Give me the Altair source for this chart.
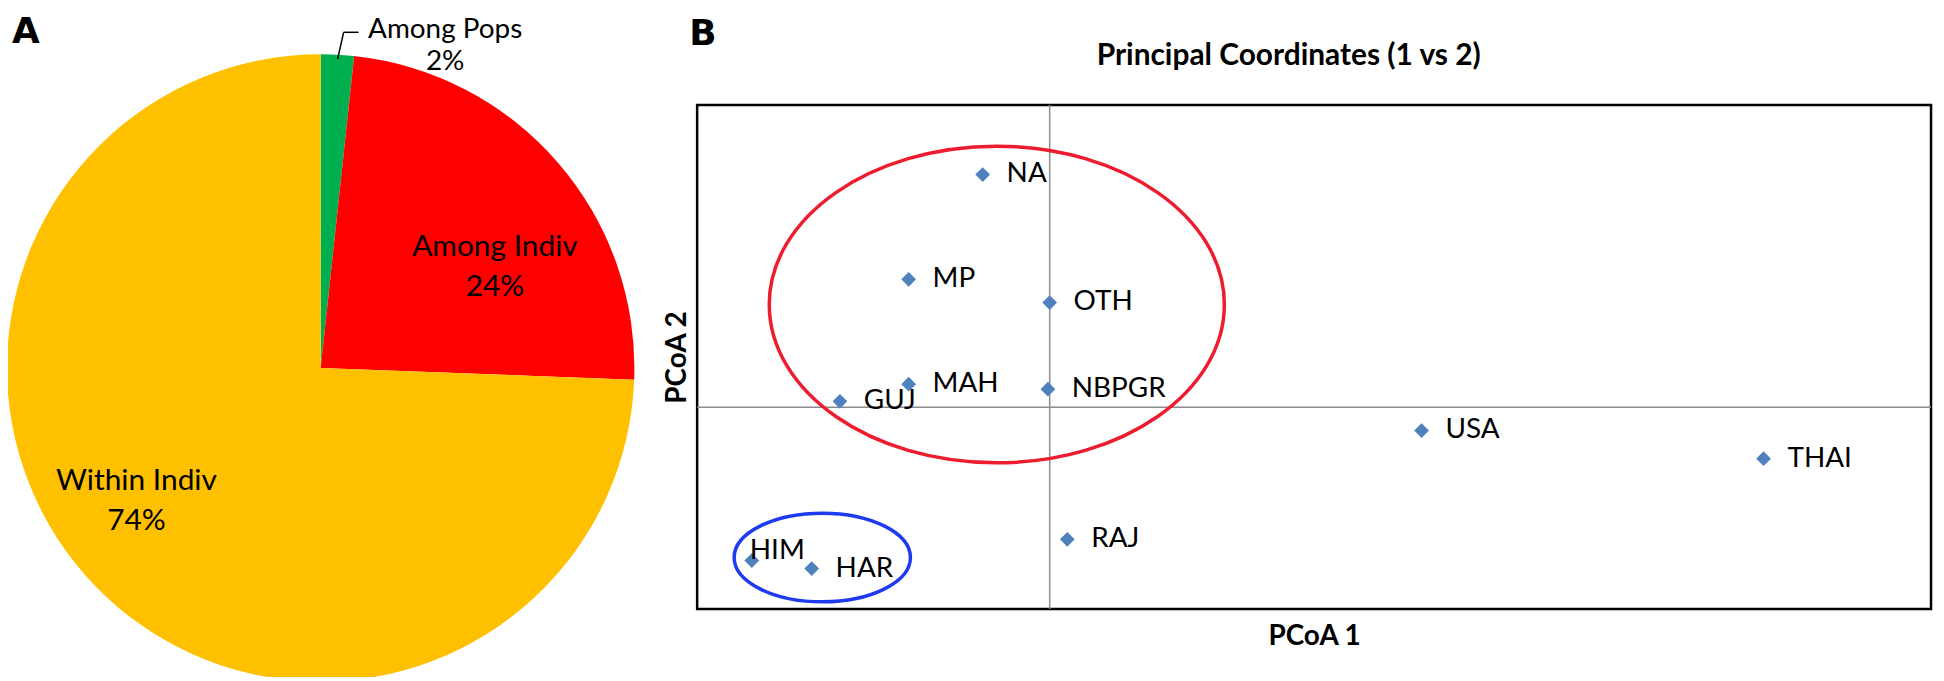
import altair as alt
import pandas as pd

# ---------------- Panel A data (AMOVA pie) ----------------
pie_categories = ["Among Pops", "Among Indiv", "Within Indiv"]
pie_values = [1.7, 23.9, 74.4]
pie_labels = ["2%", "24%", "74%"]
pie_colors = ["#00B050", "#FF0000", "#FFC000"]

# ---------------- Panel B data (PCoA) ----------------
pops = ["NA", "MP", "OTH", "MAH", "NBPGR", "GUJ", "USA", "THAI", "RAJ", "HIM", "HAR"]
pcoa1 = [-0.038, -0.080, 0.000, -0.080, -0.001, -0.119, 0.211, 0.405, 0.010, -0.169, -0.135]
pcoa2 = [0.231, 0.127, 0.104, 0.023, 0.018, 0.006, -0.023, -0.051, -0.131, -0.152, -0.160]

cluster_names = ["red", "blue"]
cluster_cx = [-0.030, -0.129]
cluster_cy = [0.102, -0.149]

FONT = "Lato"
VX, VY = 700, 104  # page position of the plot box (view origin)


def px(x):
    return x - VX


def py(y):
    return y - VY


one = pd.DataFrame({"k": [0]})

pie_df = pd.DataFrame({"category": pie_categories, "value": pie_values,
                       "order": list(range(len(pie_categories)))})
sc_df = pd.DataFrame({"pop": pops, "pcoa1": pcoa1, "pcoa2": pcoa2})
cl_df = pd.DataFrame({"cluster": cluster_names, "cx": cluster_cx, "cy": cluster_cy})

xscale = alt.Scale(domain=[-0.2, 0.5], nice=False, zero=False)
yscale = alt.Scale(domain=[-0.2, 0.3], nice=False, zero=False)
xaxis = alt.Axis(title="PCoA 1", labels=False, ticks=False, domain=False, grid=False,
                 titleFont=FONT, titleFontSize=28, titleFontWeight="bold",
                 titleColor="black", titlePadding=14)
yaxis = alt.Axis(title="PCoA 2", labels=False, ticks=False, domain=False, grid=False,
                 titleFont=FONT, titleFontSize=28, titleFontWeight="bold",
                 titleColor="black", titlePadding=6)

# ---- pie ----
pie = alt.Chart(pie_df).mark_arc(x=px(322), y=py(368), radius=315).encode(
    theta=alt.Theta("value:Q", stack=True),
    color=alt.Color("category:N", scale=alt.Scale(domain=pie_categories, range=pie_colors), legend=None),
    order=alt.Order("order:Q"),
)


def text_layer(text, x, y, size, weight="normal", align="center", font=FONT, line_height=40):
    return alt.Chart(one).mark_text(
        text=text, x=px(x), y=py(y), fontSize=size, fontWeight=weight, align=align,
        baseline="alphabetic", font=font, color="black", lineHeight=line_height,
    ).encode(opacity=alt.value(1))


lab_pops = text_layer([pie_categories[0], pie_labels[0]], 447, 37, 28, line_height=32)
lab_among = text_layer([pie_categories[1], pie_labels[1]], 497, 256, 30)
lab_within = text_layer([pie_categories[2], pie_labels[2]], 137, 491, 30)

leader1 = alt.Chart(one).mark_rule(color="black", strokeWidth=1.5).encode(
    x=alt.value(px(360)), x2=alt.value(px(345)), y=alt.value(py(31)), y2=alt.value(py(31)))
leader2 = alt.Chart(one).mark_rule(color="black", strokeWidth=1.5).encode(
    x=alt.value(px(345)), x2=alt.value(px(339)), y=alt.value(py(31)), y2=alt.value(py(58)))

letter_a = text_layer("A", 12, 42, 36, weight="bold", align="left", font="DejaVu Sans")
letter_b = text_layer("B", 692, 44, 36, weight="bold", align="left", font="DejaVu Sans")
title_b = text_layer("Principal Coordinates (1 vs 2)", 1294, 64, 30, weight="bold")

# ---- PCoA panel ----
vzero = alt.Chart(one).mark_rule(color="#8c8c8c", strokeWidth=1.5).encode(
    x=alt.XDatum(0, scale=xscale))
hzero = alt.Chart(one).mark_rule(color="#8c8c8c", strokeWidth=1.5).encode(
    y=alt.YDatum(0, scale=yscale))


def ellipse_path(ratio):
    k = 0.5523
    ry = ratio
    ky = k * ry
    return (f"M -1 0 C -1 {-ky:.4f} {-k} {-ry:.4f} 0 {-ry:.4f} "
            f"C {k} {-ry:.4f} 1 {-ky:.4f} 1 0 "
            f"C 1 {ky:.4f} {k} {ry:.4f} 0 {ry:.4f} "
            f"C {-k} {ry:.4f} -1 {ky:.4f} -1 0 Z")


ell_red = alt.Chart(cl_df).transform_filter(alt.datum.cluster == "red").mark_point(
    shape=ellipse_path(318 / 457), size=457 ** 2, filled=False, stroke="#ED1C2E",
    strokeWidth=3.5, opacity=1,
).encode(x=alt.X("cx:Q", scale=xscale, axis=xaxis), y=alt.Y("cy:Q", scale=yscale, axis=yaxis))

ell_blue = alt.Chart(cl_df).transform_filter(alt.datum.cluster == "blue").mark_point(
    shape=ellipse_path(89 / 177), size=177 ** 2, filled=False, stroke="#1F3BF0",
    strokeWidth=3.5, opacity=1,
).encode(x=alt.X("cx:Q", scale=xscale, axis=xaxis), y=alt.Y("cy:Q", scale=yscale, axis=yaxis))

base = alt.Chart(sc_df).encode(
    x=alt.X("pcoa1:Q", scale=xscale, axis=xaxis),
    y=alt.Y("pcoa2:Q", scale=yscale, axis=yaxis),
)
points = base.mark_point(shape="diamond", filled=True, size=220, color="#4F81BD", opacity=1)
labels = base.transform_filter(alt.datum.pop != "HIM").mark_text(
    align="left", baseline="middle", dx=24, fontSize=28, font=FONT, color="black"
).encode(text="pop:N")
label_him = base.transform_filter(alt.datum.pop == "HIM").mark_text(
    align="left", baseline="middle", dx=-2, dy=-10, fontSize=28, font=FONT, color="black"
).encode(text="pop:N")

chart = alt.layer(
    pie, lab_pops, lab_among, lab_within, leader1, leader2, letter_a, letter_b, title_b,
    vzero, hzero, ell_red, ell_blue, points, labels, label_him,
).properties(
    width=1239, height=506,
    autosize=alt.AutoSizeParams(type="none"),
    padding={"left": 692, "top": 96, "right": 5, "bottom": 67},
    background="white",
).configure_view(stroke="black", strokeWidth=2.5)

chart.save("out.html", embed_options={"renderer": "svg", "actions": False})
